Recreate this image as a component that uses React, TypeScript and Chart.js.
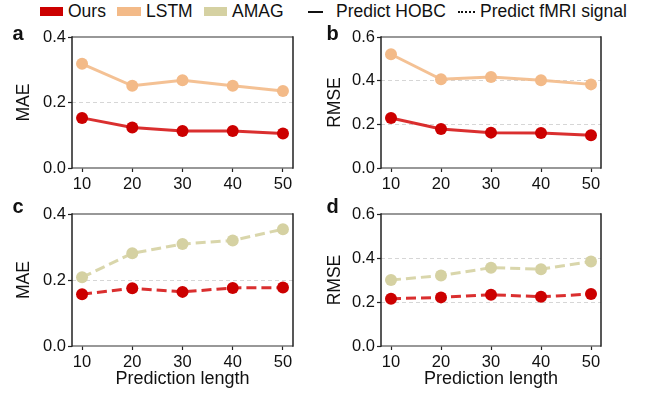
import React, { useEffect, useRef } from "react";
import { Chart, registerables } from "chart.js";

Chart.register(...registerables);

const FONT = "'Liberation Sans', Arial, Helvetica, sans-serif";

// Data
const lengths = [10, 20, 30, 40, 50];
const hobcMaeOurs = [0.153, 0.124, 0.113, 0.113, 0.105];
const hobcMaeLstm = [0.318, 0.251, 0.268, 0.251, 0.235];
const hobcRmseOurs = [0.229, 0.179, 0.162, 0.16, 0.15];
const hobcRmseLstm = [0.521, 0.406, 0.417, 0.402, 0.383];
const fmriMaeOurs = [0.157, 0.175, 0.164, 0.176, 0.177];
const fmriMaeAmag = [0.208, 0.281, 0.309, 0.32, 0.354];
const fmriRmseOurs = [0.215, 0.221, 0.233, 0.224, 0.236];
const fmriRmseAmag = [0.3, 0.32, 0.356, 0.349, 0.384];

const RED = "#cc0000";
const RED_LINE = "rgba(212,10,10,0.85)";
const LSTM = "#f3ba88";
const LSTM_LINE = "rgba(243,186,136,0.9)";
const AMAG = "#d5d1a2";
const AMAG_LINE = "rgba(213,209,162,0.9)";

type Series = { values: number[]; color: string; line: string; dash: boolean };
type PanelProps = {
  box: [number, number, number, number];
  area: { l: number; r: number; t: number; b: number };
  yMax: number;
  yTitle: string;
  yTitleCenter: number;
  xTitle: boolean;
  series: Series[];
};

const framePlugin = {
  id: "frame",
  afterDraw(chart: any) {
    const { ctx, chartArea } = chart;
    const { left, right, top, bottom } = chartArea;
    ctx.save();
    ctx.strokeStyle = "#777";
    ctx.lineWidth = 1.6;
    ctx.beginPath();
    ctx.moveTo(left, top);
    ctx.lineTo(right, top);
    ctx.moveTo(left, bottom);
    ctx.lineTo(right, bottom);
    ctx.stroke();
    ctx.strokeStyle = "#222";
    ctx.lineWidth = 1.5;
    ctx.beginPath();
    ctx.moveTo(left, top - 0.8);
    ctx.lineTo(left, bottom + 0.8);
    ctx.moveTo(right, top - 0.8);
    ctx.lineTo(right, bottom + 0.8);
    ctx.stroke();
    ctx.restore();
  },
};

function Panel({ box, area, yMax, yTitle, yTitleCenter, xTitle, series }: PanelProps) {
  const ref = useRef<HTMLCanvasElement>(null);
  const [cl, ct, cw, ch] = box;
  useEffect(() => {
    const canvas = ref.current;
    if (!canvas) return;
    const yTitleSize = 17.5;
    const yTitleLh = yTitleSize * 1.2;
    const chart = new Chart(canvas, {
      type: "line",
      data: {
        datasets: series.map((s) => ({
          data: lengths.map((x, i) => ({ x, y: s.values[i] })),
          borderColor: s.line,
          backgroundColor: s.color,
          pointBackgroundColor: s.color,
          pointBorderColor: s.color,
          pointRadius: 6,
          pointBorderWidth: 0,
          pointHoverRadius: 6,
          borderWidth: 3,
          borderDash: s.dash ? [10, 5] : [],
          tension: 0,
          fill: false,
        })),
      },
      options: {
        responsive: false,
        maintainAspectRatio: false,
        animation: false,
        events: [],
        layout: {
          padding: { left: 0, top: area.t - ct, right: cl + cw - area.r, bottom: 0 },
        },
        plugins: { legend: { display: false }, tooltip: { enabled: false } },
        scales: {
          x: {
            type: "linear",
            min: 8,
            max: 52,
            afterBuildTicks: (s: any) => {
              s.ticks = lengths.map((v) => ({ value: v }));
            },
            afterFit: (s: any) => {
              s.height = ct + ch - area.b;
            },
            ticks: {
              font: { family: FONT, size: 16.5 },
              color: "#111",
              padding: 3,
              maxRotation: 0,
              autoSkip: false,
              callback: (v: any) => String(v),
            },
            grid: {
              drawOnChartArea: false,
              drawTicks: true,
              tickLength: 4,
              tickColor: "#222",
              tickWidth: 1.2,
            },
            border: { display: false },
            title: xTitle
              ? {
                  display: true,
                  text: "Prediction length",
                  font: { family: FONT, size: 18 },
                  color: "#111",
                  padding: { top: 0, bottom: 4 },
                }
              : { display: false },
          },
          y: {
            type: "linear",
            min: 0,
            max: yMax,
            afterFit: (s: any) => {
              s.width = area.l - cl;
            },
            ticks: {
              stepSize: 0.2,
              font: { family: FONT, size: 16.5 },
              color: "#111",
              padding: 2,
              callback: (v: any) => Number(v).toFixed(1),
            },
            grid: {
              color: (c: any) =>
                c.tick && c.tick.value > 1e-6 && c.tick.value < yMax - 1e-6 ? "#d6d6d6" : "rgba(0,0,0,0)",
              lineWidth: 1,
              drawTicks: true,
              tickLength: 4,
              tickColor: "#222",
              tickWidth: 1.2,
            },
            border: { display: false, dash: [4, 3] },
            title: {
              display: true,
              text: yTitle,
              font: { family: FONT, size: yTitleSize },
              color: "#111",
              padding: { top: yTitleCenter - cl - yTitleLh / 2, bottom: 0 },
            },
          },
        },
      },
      plugins: [framePlugin],
    } as any);
    return () => chart.destroy();
  }, []);
  return (
    <canvas
      ref={ref}
      width={cw}
      height={ch}
      style={{ position: "absolute", left: cl, top: ct, width: cw, height: ch }}
    />
  );
}

const legendText: React.CSSProperties = {
  position: "absolute",
  top: 1,
  fontSize: 17.5,
  lineHeight: "20px",
  color: "#111",
  whiteSpace: "nowrap",
};

const letterStyle: React.CSSProperties = {
  position: "absolute",
  fontSize: 20,
  fontWeight: "bold",
  lineHeight: "20px",
  color: "#111",
};

export default function App() {
  return (
    <div
      style={{
        position: "fixed",
        left: 0,
        top: 0,
        width: 647,
        height: 394,
        background: "#fff",
        fontFamily: FONT,
        overflow: "hidden",
      }}
    >
      {/* Legend */}
      <div style={{ position: "absolute", left: 40, top: 7, width: 23, height: 9, background: RED }} />
      <div style={{ ...legendText, left: 68 }}>Ours</div>
      <div style={{ position: "absolute", left: 117, top: 7, width: 24, height: 9, background: LSTM }} />
      <div style={{ ...legendText, left: 146 }}>LSTM</div>
      <div style={{ position: "absolute", left: 204, top: 7, width: 23, height: 9, background: AMAG }} />
      <div style={{ ...legendText, left: 232 }}>AMAG</div>
      <div style={{ position: "absolute", left: 308, top: 11, width: 15, height: 0, borderTop: "2px solid #111" }} />
      <div style={{ ...legendText, left: 336 }}>Predict HOBC</div>
      <div style={{ position: "absolute", left: 458, top: 11, width: 17, height: 0, borderTop: "2px dotted #111" }} />
      <div style={{ ...legendText, left: 480 }}>Predict fMRI signal</div>

      <Panel
        box={[0, 25, 320, 175]}
        area={{ l: 72, r: 293, t: 37, b: 168 }}
        yMax={0.4}
        yTitle="MAE"
        yTitleCenter={24}
        xTitle={false}
        series={[
          { values: hobcMaeLstm, color: LSTM, line: LSTM_LINE, dash: false },
          { values: hobcMaeOurs, color: RED, line: RED_LINE, dash: false },
        ]}
      />
      <Panel
        box={[320, 25, 327, 175]}
        area={{ l: 381, r: 601, t: 37, b: 168 }}
        yMax={0.6}
        yTitle="RMSE"
        yTitleCenter={335}
        xTitle={false}
        series={[
          { values: hobcRmseLstm, color: LSTM, line: LSTM_LINE, dash: false },
          { values: hobcRmseOurs, color: RED, line: RED_LINE, dash: false },
        ]}
      />
      <Panel
        box={[0, 190, 320, 204]}
        area={{ l: 72, r: 293, t: 214, b: 346 }}
        yMax={0.4}
        yTitle="MAE"
        yTitleCenter={24}
        xTitle={true}
        series={[
          { values: fmriMaeAmag, color: AMAG, line: AMAG_LINE, dash: true },
          { values: fmriMaeOurs, color: RED, line: RED_LINE, dash: true },
        ]}
      />
      <Panel
        box={[320, 190, 327, 204]}
        area={{ l: 381, r: 601, t: 214, b: 346 }}
        yMax={0.6}
        yTitle="RMSE"
        yTitleCenter={335}
        xTitle={true}
        series={[
          { values: fmriRmseAmag, color: AMAG, line: AMAG_LINE, dash: true },
          { values: fmriRmseOurs, color: RED, line: RED_LINE, dash: true },
        ]}
      />

      {/* Panel letters */}
      <div style={{ ...letterStyle, left: 12.5, top: 23 }}>a</div>
      <div style={{ ...letterStyle, left: 326.5, top: 23 }}>b</div>
      <div style={{ ...letterStyle, left: 12.5, top: 196 }}>c</div>
      <div style={{ ...letterStyle, left: 326.5, top: 196 }}>d</div>
    </div>
  );
}
